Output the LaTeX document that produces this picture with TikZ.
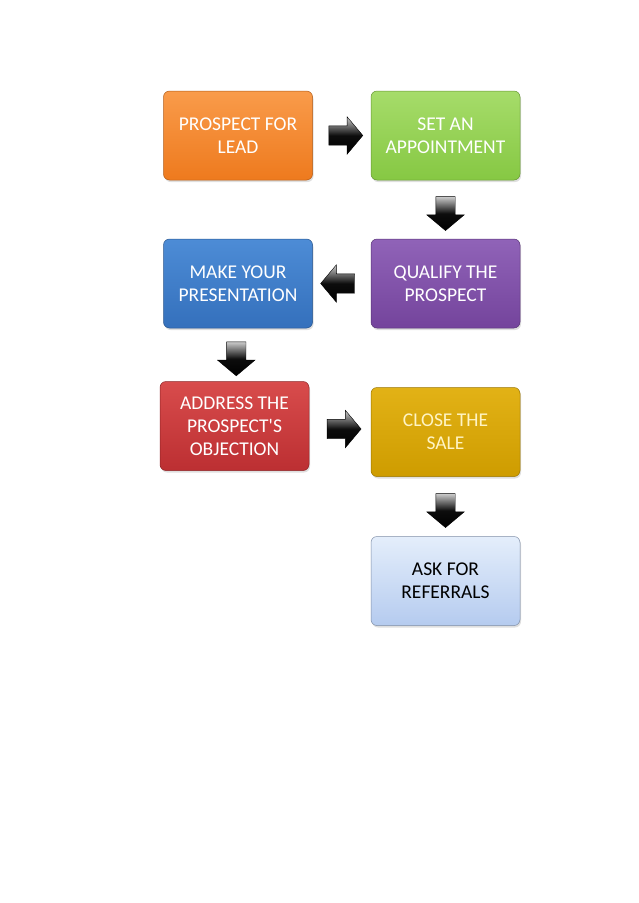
\documentclass[tikz,border=0pt]{standalone}
\usepackage{fontspec}
\setmainfont{Carlito}
\usetikzlibrary{shapes.arrows, shadows, calc}

\definecolor{orangetop}{HTML}{F99B4A}
\definecolor{orangebot}{HTML}{EE7A1E}
\definecolor{greentop}{HTML}{A6DC6A}
\definecolor{greenbot}{HTML}{86C843}
\definecolor{purpletop}{HTML}{9063B8}
\definecolor{purplebot}{HTML}{74449C}
\definecolor{bluetop}{HTML}{4D8CD6}
\definecolor{bluebot}{HTML}{3470BC}
\definecolor{redtop}{HTML}{D84C4C}
\definecolor{redbot}{HTML}{BC2F32}
\definecolor{goldtop}{HTML}{E2B216}
\definecolor{goldbot}{HTML}{CE9C00}
\definecolor{goldtext}{HTML}{FFF4C4}
\definecolor{palebluetop}{HTML}{E4EEFB}
\definecolor{palebluebot}{HTML}{B5CBEF}

\begin{document}
\begin{tikzpicture}[x=1pt, y=-1pt,
every node/.style = {align=center, font=\fontsize{19.5}{23}\selectfont},
stepbox/.style = {rectangle, rounded corners=6pt, minimum width=149pt, minimum height=89pt,
  text=white, draw=#1bot!75!black, line width=0.5pt, top color=#1top, bottom color=#1bot,
  drop shadow={opacity=0.25, shadow xshift=1pt, shadow yshift=-2pt}},
blockarrow/.style = {single arrow, minimum height=34pt, minimum width=37pt, inner sep=9.5pt,
  single arrow head extend=9pt, single arrow tip angle=100, top color=black!20, bottom color=black,
  middle color=black!95, draw=black, line width=0.4pt}]
%
\useasboundingbox (0,0) rectangle (638,903);
\node [stepbox=orange] (lead) at (238,135.5) {PROSPECT FOR\\LEAD};
\node [stepbox=green] (appt) at (445.5,135.5) {SET AN\\APPOINTMENT};
\node [stepbox=purple] (qualify) at (445.5,283.5) {QUALIFY THE\\PROSPECT};
\node [stepbox=blue] (present) at (238,283.5) {MAKE YOUR\\PRESENTATION};
\node [stepbox=red] (objection) at (234.5,426) {ADDRESS THE\\PROSPECT\textquotesingle S\\OBJECTION};
\node [stepbox=gold, text=goldtext] (close) at (445.5,432) {CLOSE THE\\SALE};
\node [stepbox=paleblue, text=black, draw=palebluebot!70!black] (referrals) at (445.5,581) {ASK FOR\\REFERRALS};
%
\node [blockarrow] (lead2appt) at ($(lead.east)!0.5!(appt.west)$) {};
\node [blockarrow, shape border rotate=270] (appt2qualify) at ($(appt.south)!0.5!(qualify.north)$) {};
\node [blockarrow, shape border rotate=180] (qualify2present) at ($(qualify.west)!0.5!(present.east)$) {};
\node [blockarrow, shape border rotate=270] (present2objection) at ($(present.south)!0.5!(objection.north)$) {};
\node [blockarrow] (objection2close) at ($(objection.east)!0.5!(close.west)$) {};
\node [blockarrow, shape border rotate=270] (close2referrals) at ($(close.south)!0.5!(referrals.north)$) {};
\end{tikzpicture}
\end{document}
